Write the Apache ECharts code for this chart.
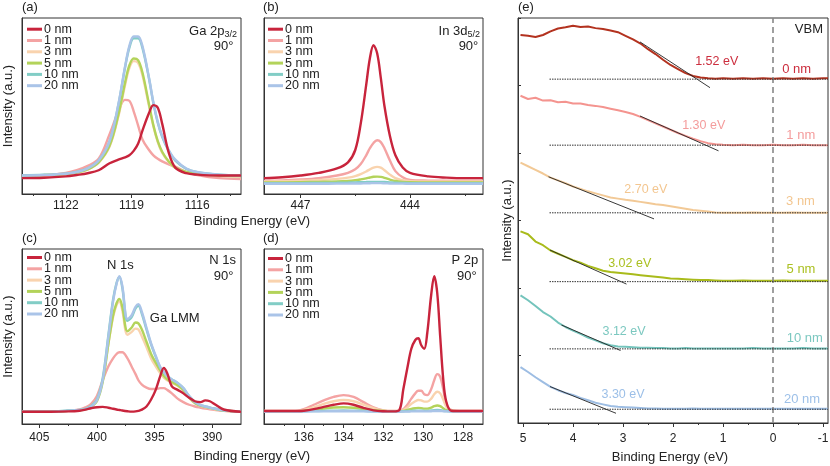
<!DOCTYPE html>
<html><head><meta charset="utf-8">
<script src="https://cdn.jsdelivr.net/npm/echarts@6/dist/echarts.min.js"></script>
<style>html,body{margin:0;padding:0;background:#fff}#c{width:830px;height:466px}</style>
</head><body><div id="c"></div>
<script>
const FONT = '"Liberation Sans", Arial, Helvetica, sans-serif';
const thick = ['0 nm', '1 nm', '3 nm', '5 nm', '10 nm', '20 nm'];

// (a) Ga 2p3/2
const aE = [1124, 1123, 1122, 1121.5, 1121, 1120.5, 1120, 1119.6, 1119.3, 1119.1, 1118.9, 1118.7, 1118.5, 1118.2, 1118, 1117.8, 1117.6, 1117.3, 1117, 1116.5, 1116, 1115, 1114];
const a0 = [9, 9.2, 10, 10.8, 11.8, 13.5, 17.5, 19.5, 20.8, 22, 24.5, 28.5, 36, 46, 50.5, 49, 40, 23.5, 15, 11.8, 11, 10.5, 10.5];
const a1 = [10, 10.5, 12, 13.5, 16, 20, 34, 47, 53.5, 53, 47, 39, 31, 25, 22, 20, 18.5, 16.8, 15.5, 12.5, 10.8, 9, 8.5];
const a3 = [10.4, 10.7, 11.2, 12.1, 13.9, 17.8, 27, 44, 61.5, 71.5, 75.5, 74.5, 67.5, 50, 38.5, 29.5, 23.5, 18.2, 14.8, 12.4, 11.4, 10.4, 10.1];
const a5 = [10.5, 10.8, 11.3, 12.2, 14, 18, 27.5, 45, 63, 73, 77, 76, 69, 51, 39, 30, 24, 18.5, 15, 12.5, 11.5, 10.5, 10.2];
const a10 = [10.6, 10.9, 11.6, 12.6, 14.6, 19, 30, 50.5, 71.5, 83, 88.5, 88.5, 83, 65.5, 51.5, 40.5, 32.5, 24.5, 19, 14.3, 12.4, 11, 10.5];
const a20 = [10.5, 10.8, 11.5, 12.5, 14.5, 19, 30, 51, 72, 84, 89.5, 89.5, 84, 66, 52, 41, 33, 25, 19.5, 14.5, 12.5, 11, 10.5];

// (b) In 3d5/2
const bE = [448, 447.5, 447, 446.5, 446, 445.7, 445.5, 445.35, 445.2, 445.1, 445.0, 444.9, 444.8, 444.7, 444.55, 444.4, 444.2, 444, 443.5, 443, 442.5, 442];
const b0 = [9, 9.5, 10.5, 12, 14.5, 18, 25, 40, 62, 77, 84.5, 80, 66, 50, 33, 22, 15, 12, 10, 9.3, 9, 9];
const b1 = [7.5, 7.7, 8.2, 9, 10.5, 12, 14, 17, 22, 26, 29, 30.5, 29.5, 26, 19, 13, 9.5, 8, 7.6, 7.5, 7.5, 7.5];
const b3 = [7.2, 7.3, 7.5, 8, 8.6, 9.3, 10.2, 11.3, 12.8, 14, 15, 15.4, 15, 13.5, 11, 9, 7.8, 7.3, 7.2, 7.2, 7.2, 7.2];
const b5 = [6.6, 6.6, 6.7, 6.9, 7.1, 7.4, 7.8, 8.3, 8.9, 9.4, 9.8, 9.9, 9.7, 9.2, 8.2, 7.4, 6.9, 6.7, 6.6, 6.6, 6.6, 6.6];
const b10 = [6.2, 6.2, 6.2, 6.3, 6.4, 6.5, 6.6, 6.7, 6.8, 6.9, 6.9, 6.9, 6.9, 6.8, 6.6, 6.4, 6.3, 6.2, 6.2, 6.2, 6.2, 6.2];
const b20 = [5.8, 5.8, 5.8, 5.8, 5.9, 5.9, 6, 6, 6.1, 6.1, 6.2, 6.2, 6.2, 6.1, 6, 5.9, 5.9, 5.8, 5.8, 5.8, 5.8, 5.8];

// (c) N 1s
const cE = [406.5, 404, 402.5, 401.5, 401, 400.5, 400, 399.5, 399, 398.6, 398.3, 398.05, 397.8, 397.35, 397, 396.65, 396.4, 396.1, 395.7, 395.3, 394.9, 394.5, 394.2, 393.9, 393.5, 393, 392.5, 392, 391.5, 391, 390.6, 390.2, 389.7, 389, 387.5];
const c0 = [7, 7, 7.2, 7.6, 8.2, 9, 9.6, 9.8, 9.3, 8.7, 8.3, 8, 7.7, 7.3, 7.1, 7.2, 7.5, 8.2, 10, 14, 19.5, 27.5, 32, 29, 21.5, 19.5, 17.5, 15, 13, 12.5, 13.5, 13, 11, 8.3, 7];
const c1 = [7, 7, 7.5, 8.3, 9.5, 11.5, 16, 25, 33, 37.5, 40, 41, 41, 37.5, 33, 28.5, 25, 22.5, 20.8, 20, 20, 20.5, 20.5, 19.5, 17.5, 14.5, 12.5, 11, 10, 9.3, 8.8, 8.4, 8, 7.5, 7];
const c3 = [7, 7, 7.5, 7.9, 8.5, 10.2, 14, 25, 46, 61, 68, 70, 65, 51, 52.5, 54.5, 54, 50, 44, 37.5, 33, 29, 26.5, 25, 23.5, 21.8, 19, 15, 11.8, 10.3, 9.6, 9, 8.3, 7.6, 7];
const c5 = [7, 7, 7.5, 7.8, 8.3, 9.8, 13, 24, 46, 62, 69, 71.5, 67, 53, 55, 58, 57.5, 54, 47, 40, 35, 30.5, 27.5, 25.5, 24, 22.2, 19.5, 15.3, 12, 10.5, 9.8, 9.2, 8.5, 7.7, 7];
const c10 = [7, 7, 7.7, 8.1, 8.7, 10.3, 14, 26, 51, 71, 80.5, 84, 78, 59, 61, 66, 67.5, 63, 54, 45.5, 38.5, 32, 29.5, 27.5, 25.5, 23.5, 20.5, 16, 12.5, 10.8, 10, 9.4, 8.7, 7.8, 7];
const c20 = [7, 7, 7.6, 8, 8.5, 10, 13.5, 25, 50, 70, 80, 84.5, 79, 60, 62, 67, 68.5, 64, 55, 46, 39, 32.5, 29.5, 27.5, 25.5, 23.5, 20.5, 16, 12.5, 10.8, 10, 9.4, 8.7, 7.8, 7];

// (d) P 2p
const dE = [138, 137, 136.3, 136, 135.5, 135, 134.5, 134, 133.5, 133, 132.5, 132, 131.5, 131.2, 131, 130.8, 130.6, 130.4, 130.25, 130.1, 129.95, 129.8, 129.6, 129.45, 129.3, 129.15, 129, 128.85, 128.6, 128, 127];
const d0 = [7.4, 7.4, 7.4, 7.6, 8.5, 9.8, 11, 11.8, 11, 9.2, 7.8, 7.3, 7.2, 8, 20, 32, 43, 48, 49, 45, 43, 52, 74, 84.5, 75, 50, 26, 13, 7.6, 7.4, 7.4];
const d1 = [7.4, 7.4, 7.6, 8.5, 11, 13.5, 15.5, 16.5, 15.5, 12.5, 9.5, 7.8, 7.4, 7.6, 8.5, 11, 14.5, 17.5, 19, 19, 17, 16.5, 20, 25, 28.5, 27, 20, 12, 8, 7.4, 7.4];
const d3 = [7.4, 7.4, 7.4, 8, 9.5, 11.5, 13, 13.7, 13, 11, 9, 7.6, 7.4, 7.5, 8, 9.5, 11.5, 13, 13.7, 13.5, 12.8, 12.8, 14.5, 17, 18.4, 17.5, 14, 10, 7.6, 7.4, 7.4];
const d5 = [7.3, 7.3, 7.3, 7.5, 8, 8.8, 9.4, 9.6, 9.3, 8.6, 7.9, 7.4, 7.3, 7.3, 7.5, 8, 8.6, 9, 9.2, 9.1, 8.8, 8.8, 9.4, 10.2, 10.6, 10.2, 9, 7.9, 7.4, 7.3, 7.3];
const d10 = [7.2, 7.3, 7.2, 7.3, 7.4, 7.5, 7.6, 7.7, 7.6, 7.5, 7.3, 7.2, 7.3, 7.2, 7.3, 7.4, 7.5, 7.6, 7.6, 7.6, 7.5, 7.5, 7.7, 7.9, 8, 7.9, 7.6, 7.4, 7.3, 7.2, 7.2];
const d20 = [7.0, 7.1, 7.0, 7.1, 7.2, 7.2, 7.3, 7.3, 7.3, 7.2, 7.1, 7.0, 7.1, 7.0, 7.1, 7.1, 7.2, 7.2, 7.3, 7.3, 7.2, 7.2, 7.3, 7.4, 7.4, 7.4, 7.3, 7.2, 7.1, 7.0, 7.0];

// (e) VBM
const eE = [5.05, 4.9, 4.75, 4.6, 4.45, 4.3, 4.15, 4.0, 3.85, 3.7, 3.55, 3.4, 3.25, 3.1, 2.95, 2.8, 2.65, 2.5, 2.35, 2.2, 2.05, 1.9, 1.75, 1.6, 1.45, 1.3, 1.15, 1.0, 0.8, 0.6, 0.4, 0.2, 0, -0.2, -0.4, -0.6, -0.8, -1.0, -1.1];
const e0 = [95.8, 95.6, 95.3, 95.8, 96.7, 97.4, 97.7, 98.1, 97.8, 97.9, 97.5, 97.3, 96.9, 96.5, 95.6, 94.7, 93.7, 92.3, 91.1, 89.7, 88.4, 87.4, 86.4, 85.7, 85.3, 85.1, 85.0, 85.1, 85.0, 85.1, 85.0, 85.1, 85.0, 85.1, 85.0, 85.1, 85.0, 85.1, 85.1];
const e1 = [80.8, 80.0, 80.3, 79.6, 79.7, 79.2, 79.3, 78.9, 78.9, 78.5, 78.3, 78.0, 77.6, 77.2, 76.8, 76.3, 75.6, 74.8, 74.0, 73.2, 72.4, 71.6, 70.9, 70.2, 69.6, 69.1, 68.8, 68.7, 68.6, 68.7, 68.6, 68.6, 68.7, 68.6, 68.6, 68.7, 68.6, 68.6, 68.6];
const e3 = [64.3, 63.4, 62.5, 61.6, 60.6, 59.9, 59.2, 58.4, 57.8, 57.2, 56.7, 56.2, 55.7, 55.4, 55.1, 54.9, 54.6, 54.3, 54.0, 53.8, 53.5, 53.2, 52.9, 52.6, 52.4, 52.2, 52.0, 51.9, 51.9, 51.9, 52.0, 51.9, 51.9, 51.9, 52.0, 51.9, 51.9, 51.9, 51.9];
const e5 = [47.3, 46.6, 44.8, 43.9, 42.6, 41.8, 41.0, 40.2, 39.6, 38.8, 38.2, 37.6, 37.3, 37.1, 36.9, 36.7, 36.5, 36.3, 36.1, 35.9, 35.7, 35.6, 35.5, 35.4, 35.3, 35.3, 35.2, 35.1, 35.1, 35.2, 35.1, 35.1, 35.1, 35.2, 35.1, 35.1, 35.1, 35.1, 35.1];
const e10 = [31.5, 30.3, 28.9, 27.4, 26.3, 24.8, 23.7, 22.8, 22.0, 21.1, 20.4, 19.7, 19.2, 18.9, 18.8, 18.7, 18.6, 18.6, 18.5, 18.5, 18.4, 18.4, 18.5, 18.4, 18.4, 18.4, 18.4, 18.4, 18.4, 18.4, 18.5, 18.4, 18.4, 18.4, 18.4, 18.5, 18.4, 18.4, 18.4];
const e20 = [13.8, 12.6, 11.3, 10.1, 8.9, 8.1, 7.4, 6.9, 6.2, 5.6, 5.0, 4.6, 4.2, 4.0, 3.9, 3.8, 3.7, 3.6, 3.6, 3.5, 3.5, 3.5, 3.5, 3.6, 3.5, 3.5, 3.5, 3.5, 3.5, 3.5, 3.5, 3.5, 3.5, 3.5, 3.5, 3.5, 3.5, 3.5, 3.5];
const tanX = [[2.66, 1.26], [2.66, 1.09], [4.49, 2.38], [4.46, 2.93], [4.23, 3.05], [4.46, 3.14]];
const tanY = [[94.1, 82.8], [75.8, 67.2], [60.8, 50.4], [42.7, 34.3], [24.2, 17.9], [9.0, 2.4]];
const baseX = [4.47, -1.1];
const baseY = [84.9, 68.6, 51.9, 34.9, 18.3, 3.4];
const vbmVals = ['1.52 eV', '1.30 eV', '2.70 eV', '3.02 eV', '3.12 eV', '3.30 eV'];

// axis ranges and ticks
const ranges = [[1114, 1124], [442, 448], [387.5, 406.5], [127, 138], [-1.1, 5.1]];
const majors = [[1122, 1119, 1116], [447, 444], [405, 400, 395, 390], [136, 134, 132, 130, 128], [5, 4, 3, 2, 1, 0, -1]];
const minors = [[1123.5, 1120.5, 1117.5, 1114.5], [445.5, 442.5], [402.5, 397.5, 392.5], [137, 135, 133, 131, 129], [4.5, 3.5, 2.5, 1.5, 0.5, -0.5]];

// ---------- styles / layout ----------
const xpsColors = ['#c8243c', '#f4a3a3', '#f9d3ae', '#b3d35a', '#82cdc6', '#aac4e8'];
const vbmColors = ['#b3321f', '#f4948f', '#f2c996', '#a9bb1b', '#74c4bc', '#9dbde3'];
const vbmText = ['#cc2e3e', '#f49c9c', '#f3c690', '#abc021', '#7cc8c0', '#9dc0e8'];
const grids = [
  {left: 22, right: 589, top: 18, bottom: 272},
  {left: 264, right: 347, top: 18, bottom: 272},
  {left: 22, right: 589, top: 249, bottom: 42},
  {left: 264, right: 347, top: 249, bottom: 42},
  {left: 518, right: 2, top: 18, bottom: 43}
].map(g => Object.assign({show: true, borderColor: '#333', borderWidth: 1, containLabel: false, outerBoundsMode: 'none'}, g));
const labelMargins = [6, 6, 8, 8, 10];

function pairs(xs, ys) { return xs.map((x, i) => [x, ys[i]]); }

const xAxis = [], yAxis = [];
for (let i = 0; i < 5; i++) {
  xAxis.push({
    gridIndex: i, type: 'value', min: ranges[i][0], max: ranges[i][1], inverse: true, position: 'bottom',
    axisLine: {show: true, onZero: false, lineStyle: {color: '#333', width: 1}},
    axisTick: {show: true, length: 4, customValues: majors[i], lineStyle: {color: '#333', width: 1}},
    axisLabel: {customValues: majors[i], margin: labelMargins[i], fontSize: 12, color: '#222', fontFamily: FONT,
      formatter: v => String(v)},
    splitLine: {show: false}
  });
}
for (let i = 0; i < 5; i++) {
  xAxis.push({
    gridIndex: i, type: 'value', min: ranges[i][0], max: ranges[i][1], inverse: true, position: 'bottom',
    axisLine: {show: false, onZero: false},
    axisTick: {show: true, length: 2, customValues: minors[i], lineStyle: {color: '#333', width: 1}},
    axisLabel: {show: false}, splitLine: {show: false}
  });
}
const nameGaps = [7, 0, 7, 0, 4];
for (let i = 0; i < 5; i++) {
  const y = {
    gridIndex: i, type: 'value', min: 0, max: 100,
    axisLine: {show: true, onZero: false, lineStyle: {color: '#333', width: 1}},
    axisTick: {show: false}, axisLabel: {show: false}, splitLine: {show: false}
  };
  if (i === 0 || i === 2 || i === 4) {
    y.name = 'Intensity (a.u.)'; y.nameLocation = 'middle'; y.nameGap = nameGaps[i];
    y.nameTextStyle = {fontSize: 13, color: '#222', fontFamily: FONT};
  }
  if (i === 4) {
    y.interval = 100 / 6;
    y.axisTick = {show: true, inside: true, length: 3, lineStyle: {color: '#333'}};
  }
  yAxis.push(y);
}

const panels = [
  [aE, [a0, a1, a3, a5, a10, a20]],
  [bE, [b0, b1, b3, b5, b10, b20]],
  [cE, [c0, c1, c3, c5, c10, c20]],
  [dE, [d0, d1, d3, d5, d10, d20]]
];
const series = [];
panels.forEach((p, pi) => {
  p[1].forEach((ys, k) => {
    series.push({
      type: 'line', name: thick[k], xAxisIndex: pi, yAxisIndex: pi,
      data: pairs(p[0], ys), symbol: 'none', showSymbol: false, smooth: 0.35,
      color: xpsColors[k], lineStyle: {width: 2.4, color: xpsColors[k]},
      z: (k === 0 ? 9 : 2 + k), silent: true
    });
  });
});
const eSets = [e0, e1, e3, e5, e10, e20];
eSets.forEach((ys, k) => {
  const s = {
    type: 'line', name: 'VBM ' + thick[k], xAxisIndex: 4, yAxisIndex: 4,
    data: pairs(eE, ys), symbol: 'none', showSymbol: false, smooth: false,
    color: vbmColors[k], lineStyle: {width: 2, color: vbmColors[k]}, silent: true, z: 3
  };
  if (k === 0) {
    s.markLine = {silent: true, symbol: 'none', label: {show: false},
      lineStyle: {type: [6, 4], color: '#888', width: 1.6}, data: [{xAxis: 0}]};
  }
  series.push(s);
});
eSets.forEach((ys, k) => {
  series.push({
    type: 'line', name: 'tan' + k, xAxisIndex: 4, yAxisIndex: 4,
    data: pairs(tanX[k], tanY[k]), symbol: 'none', silent: true, z: 5,
    lineStyle: {width: 0.9, color: '#222'}
  });
  series.push({
    type: 'line', name: 'base' + k, xAxisIndex: 4, yAxisIndex: 4,
    data: pairs(baseX, [baseY[k], baseY[k]]), symbol: 'none', silent: true, z: 5,
    lineStyle: {width: 1, color: '#333', type: [1.5, 1]}
  });
});

const legendPos = [[27, 22.7], [268, 22.7], [27, 251], [268, 252]];
const legend = legendPos.map(p => ({
  data: thick, left: p[0], top: p[1], orient: 'vertical', icon: 'rect', itemWidth: 15, itemHeight: 3,
  itemGap: -1.7, padding: 0, selectedMode: false,
  textStyle: {fontSize: 12.5, color: '#222', fontFamily: FONT, padding: [0, 0, 0, -3]}
}));

function txt(t, x, y, align, opts) {
  const style = Object.assign({
    text: t, x: 0, y: 0, font: '13px ' + FONT, fill: '#222',
    align: align, verticalAlign: 'middle', textAlign: align, textVerticalAlign: 'middle'
  }, opts || {});
  return {type: 'text', x: x, y: y, silent: true, style: style};
}
const subRich = {
  m: {fontSize: 13, fontFamily: FONT, fill: '#222', lineHeight: 16},
  s: {fontSize: 9, fontFamily: FONT, fill: '#222', lineHeight: 8, verticalAlign: 'bottom'}
};
const graphic = [
  txt('(a)', 22, 7, 'left'), txt('(b)', 263, 7, 'left'), txt('(c)', 22, 238, 'left'),
  txt('(d)', 263, 238, 'left'), txt('(e)', 518, 7, 'left'),
  txt('{m|Ga 2p}{s|3/2}', 237, 31.5, 'right', {rich: subRich}),
  txt('90°', 233.5, 46.7, 'right'),
  txt('{m|In 3d}{s|5/2}', 480, 31.5, 'right', {rich: subRich}),
  txt('90°', 478.3, 46.7, 'right'),
  txt('N 1s', 236, 260, 'right'), txt('90°', 233.5, 276.7, 'right'),
  txt('P 2p', 478.3, 260, 'right'), txt('90°', 476.7, 276.7, 'right'),
  txt('N 1s', 120.3, 265, 'center'), txt('Ga LMM', 174.7, 318.3, 'center'),
  txt('Binding Energy (eV)', 252, 221.7, 'center'),
  txt('Binding Energy (eV)', 252, 456.7, 'center'),
  txt('Binding Energy (eV)', 670, 457.7, 'center'),
  txt('VBM', 823, 29.3, 'right')
];
const eVPos = [[716.7, 61.7], [703.7, 126], [645.8, 190], [629.7, 263.3], [624, 331.7], [623, 395]];
const nmPos = [[796.7, 69.3], [800.8, 135], [800.5, 201.7], [801, 269.3], [804.8, 338.3], [802, 399.3]];
vbmVals.forEach((v, k) => {
  graphic.push(txt(v, eVPos[k][0], eVPos[k][1], 'center', {fill: vbmText[k], font: '12.5px ' + FONT}));
  graphic.push(txt(thick[k], nmPos[k][0], nmPos[k][1], 'center', {fill: vbmText[k]}));
});

const chart = echarts.init(document.getElementById('c'), null, {renderer: 'canvas'});
chart.setOption({
  animation: false, backgroundColor: '#fff',
  textStyle: {fontFamily: FONT},
  grid: grids, xAxis: xAxis, yAxis: yAxis, legend: legend, series: series, graphic: graphic
});
</script></body></html>
